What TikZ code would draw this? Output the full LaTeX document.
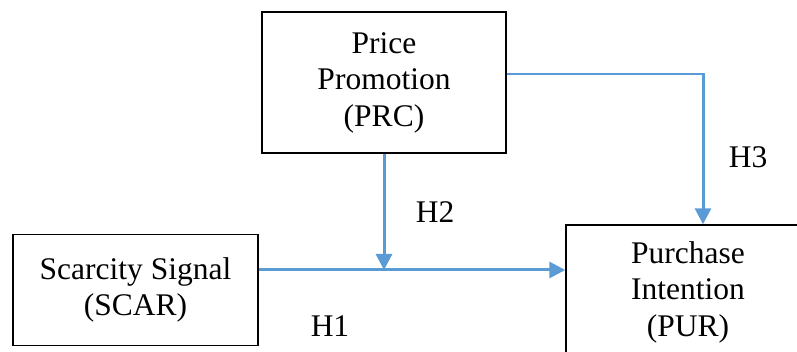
\documentclass[tikz,border=0pt]{standalone}
\usepackage{fontspec}
\setmainfont{Liberation Serif}
\usetikzlibrary{arrows.meta,positioning,calc}
\definecolor{linkblue}{RGB}{91,155,213}
\tikzset{>={Triangle[length=16pt,width=16pt]}}
\tikzset{
  varbox/.style={draw=black,line width=1.4pt,align=center,inner sep=0pt,
    font=\fontsize{31.5}{36.5}\selectfont},
  hyp/.style={font=\fontsize{31.5}{36.5}\selectfont},
  link/.style={draw=linkblue,line width=3pt},
  thinlink/.style={draw=linkblue,line width=1.5pt}
}
\begin{document}
\begin{tikzpicture}[x=1pt,y=1pt]
\useasboundingbox (0,0) rectangle (797,352);

\node [varbox,minimum width=244pt,minimum height=141pt] (prc) at (384,269.5) {Price\\Promotion\\(PRC)};
\node [varbox,minimum width=245pt,minimum height=111pt] (scar) at (135.5,62) {Scarcity Signal\\(SCAR)};
\node [varbox,minimum width=244pt,minimum height=134pt] (pur) at (688,60) {Purchase\\Intention\\(PUR)};

\coordinate (h1y) at (0,82);
\coordinate (turn) at (703,278);

\begin{scope}
\draw[link,->] (scar.east |- h1y) to (pur.west |- h1y);
\draw[link,->] (prc.south) to (prc.south |- h1y);
\draw[thinlink] (prc.east |- turn) to (turn);
\draw[link,->] ([yshift=0.75pt]turn) to (pur.north -| turn);
\end{scope}

\node [hyp] (h1) at (330,26) {H1};
\node [hyp] (h2) at (435,140) {H2};
\node [hyp] (h3) at (748,195) {H3};

\end{tikzpicture}
\end{document}
